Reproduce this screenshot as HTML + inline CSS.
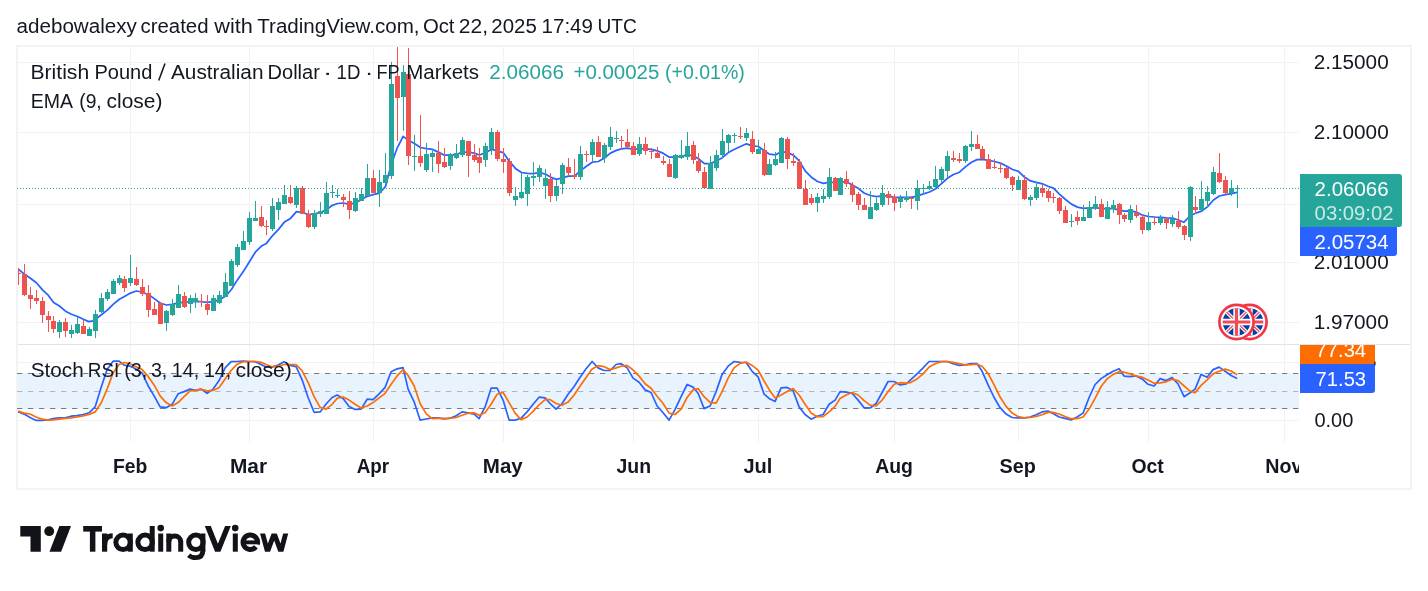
<!DOCTYPE html>
<html><head><meta charset="utf-8"><title>chart</title>
<style>html,body{margin:0;padding:0;background:#fff;}body{width:1428px;height:591px;overflow:hidden;font-family:"Liberation Sans",sans-serif;}svg{display:block;position:absolute;left:0;top:0;will-change:transform;}text{font-family:"Liberation Sans",sans-serif;}</style></head><body>
<svg width="1428" height="591" viewBox="0 0 1428 591">
<rect x="0" y="0" width="1428" height="591" fill="#ffffff"/>
<rect x="17" y="46" width="1394" height="443" fill="#ffffff" stroke="#f3f3f4" stroke-width="2"/>
<defs><clipPath id="plot"><rect x="18" y="47" width="1281" height="298"/></clipPath><clipPath id="plot2"><rect x="18" y="345" width="1281" height="97"/></clipPath><clipPath id="taxis"><rect x="18" y="442" width="1281" height="46"/></clipPath><clipPath id="olab"><rect x="1299" y="345" width="112" height="60"/></clipPath></defs>
<path d="M130.5 47V441.5 M249.5 47V441.5 M373.5 47V441.5 M503.5 47V441.5 M633.5 47V441.5 M758.5 47V441.5 M894.5 47V441.5 M1018.5 47V441.5 M1148.5 47V441.5 M1284.5 47V441.5 M18 62.5H1299 M18 132.5H1299 M18 204.5H1299 M18 262.5H1299 M18 322.5H1299 M18 362.5H1299 M18 420.5H1299" stroke="#f2f2f3" stroke-width="1" fill="none" shape-rendering="crispEdges"/>
<rect x="18" y="373" width="1281" height="36" fill="#e9f3fd"/>
<path d="M17 373.5H1299" stroke="#787b86" stroke-width="1" stroke-dasharray="5.3 5.7" fill="none"/>
<path d="M17 408.5H1299" stroke="#787b86" stroke-width="1" stroke-dasharray="5.3 5.7" fill="none"/>
<path d="M17 391.5H1299" stroke="#b2b5be" stroke-width="1" stroke-dasharray="5.3 5.7" fill="none"/>
<path d="M18 344.5H1410" stroke="#e0e3eb" stroke-width="1" fill="none"/>
<path d="M17.4 268.3 L24.4 274.1 L30.4 278.2 L36.4 282.7 L42.5 289.9 L48.4 295.4 L53.6 302.5 L59.4 306.0 L65.5 311.2 L71.4 314.3 L77.5 316.5 L83.4 319.3 L88.6 321.6 L93.2 320.8 L95.5 319.3 L101.4 314.7 L107.3 310.1 L113.4 304.1 L119.4 299.2 L124.4 296.4 L130.5 293.1 L136.3 291.0 L139.2 291.5 L142.4 292.5 L148.4 294.5 L154.3 298.6 L160.4 303.2 L166.3 305.0 L172.4 304.3 L178.4 302.9 L184.5 302.1 L190.4 301.7 L195.4 301.4 L201.4 301.7 L207.3 302.4 L213.4 301.7 L219.3 299.8 L225.4 296.3 L231.4 289.5 L237.4 279.9 L244.0 270.5 L255.3 252.2 L261.4 246.1 L266.4 243.4 L272.4 235.8 L278.5 229.4 L284.4 222.1 L290.5 218.4 L296.4 211.6 L302.4 212.6 L308.5 214.5 L314.4 213.9 L320.3 212.6 L326.4 209.9 L332.4 205.3 L337.5 203.5 L343.5 203.0 L349.5 204.5 L355.4 202.7 L361.4 199.6 L367.1 196.3 L373.1 194.7 L379.5 193.1 L385.4 186.7 L391.5 163.8 L397.3 147.8 L403.1 136.4 L408.4 140.2 L414.4 143.6 L420.4 147.5 L426.4 148.6 L432.3 149.4 L438.4 152.1 L444.4 155.2 L450.3 155.2 L456.3 154.3 L462.4 152.4 L468.5 152.0 L474.3 153.2 L479.4 155.0 L485.5 152.7 L491.5 149.2 L497.4 151.2 L503.3 152.7 L509.4 161.4 L515.4 168.4 L521.5 172.5 L527.4 173.3 L533.3 173.6 L539.4 172.5 L545.4 174.1 L550.4 177.1 L556.3 179.4 L562.4 177.9 L568.4 176.2 L574.4 176.2 L580.4 170.9 L586.4 166.3 L592.3 162.2 L598.4 161.5 L604.4 158.0 L610.4 153.1 L616.4 150.4 L621.4 148.8 L627.5 148.1 L633.4 149.3 L639.4 148.8 L645.5 148.8 L651.4 149.3 L657.3 150.8 L663.4 153.4 L669.4 157.2 L675.5 157.2 L681.5 156.1 L687.4 154.9 L693.3 155.7 L698.4 158.7 L704.5 163.6 L710.4 163.6 L716.3 161.0 L722.4 157.7 L728.4 152.6 L734.5 149.3 L740.4 146.5 L746.5 143.8 L752.4 145.8 L758.4 146.5 L764.5 150.8 L769.5 154.2 L775.4 154.9 L781.5 151.4 L787.4 152.8 L793.4 155.1 L799.4 161.2 L805.3 171.1 L811.4 177.2 L817.5 181.5 L823.4 183.3 L829.4 182.1 L835.5 182.5 L840.5 181.8 L846.4 181.8 L852.5 185.1 L858.5 188.6 L864.4 193.2 L870.5 195.5 L876.4 196.7 L882.5 195.8 L888.5 195.8 L894.0 197.3 L900.4 197.3 L906.3 197.3 L911.5 197.3 L917.5 195.8 L923.5 193.8 L929.5 192.0 L935.4 189.0 L941.5 183.6 L947.4 178.3 L953.4 174.5 L959.5 172.2 L965.4 166.9 L971.5 162.3 L977.0 159.6 L982.5 159.3 L988.4 160.3 L994.5 161.5 L1000.4 163.1 L1006.4 166.0 L1012.5 169.5 L1018.5 171.3 L1024.4 177.1 L1030.5 180.9 L1036.4 182.4 L1042.4 183.8 L1048.5 186.5 L1053.5 188.1 L1059.4 194.2 L1065.5 199.5 L1071.5 204.1 L1077.4 207.1 L1083.5 208.3 L1089.4 207.9 L1095.5 207.6 L1101.5 208.6 L1107.4 208.6 L1113.5 208.6 L1119.5 210.1 L1124.4 211.2 L1130.4 210.9 L1136.5 212.1 L1142.5 215.2 L1148.4 216.5 L1154.4 217.0 L1160.4 217.3 L1166.4 217.8 L1172.5 218.1 L1178.4 220.0 L1183.8 222.3 L1190.4 215.5 L1195.7 213.2 L1201.7 211.1 L1207.6 206.6 L1213.5 200.0 L1219.3 196.0 L1225.4 194.7 L1231.2 193.7 L1237.1 192.4" stroke="#2962ff" stroke-width="1.75" fill="none" stroke-linejoin="round" stroke-linecap="round" clip-path="url(#plot)"/>
<g clip-path="url(#plot)" shape-rendering="crispEdges">
<path d="M18 268h1V285h-1Z M16 273h5V274h-5Z M24 264h1V296h-1Z M22 274h5V295h-5Z M30 287h1V309h-1Z M28 295h5V299h-5Z M36 290h1V304h-1Z M34 298h5V301h-5Z M42 297h1V323h-1Z M40 301h5V315h-5Z M48 311h1V332h-1Z M46 316h5V320h-5Z M53 316h1V333h-1Z M51 321h5V329h-5Z M65 318h1V337h-1Z M63 322h5V331h-5Z M83 320h1V334h-1Z M81 326h5V334h-5Z M124 276h1V292h-1Z M122 279h5V288h-5Z M136 267h1V286h-1Z M134 279h5V285h-5Z M142 279h1V296h-1Z M140 287h5V294h-5Z M148 285h1V317h-1Z M146 293h5V310h-5Z M154 302h1V315h-1Z M152 309h5V315h-5Z M160 302h1V324h-1Z M158 303h5V324h-5Z M184 292h1V308h-1Z M182 296h5V307h-5Z M201 294h1V307h-1Z M199 301h5V302h-5Z M207 295h1V315h-1Z M205 304h5V310h-5Z M261 206h1V227h-1Z M259 217h5V226h-5Z M266 220h1V235h-1Z M264 226h5V227h-5Z M290 185h1V204h-1Z M288 197h5V203h-5Z M302 186h1V214h-1Z M300 188h5V214h-5Z M308 210h1V228h-1Z M306 214h5V227h-5Z M343 194h1V207h-1Z M341 197h5V200h-5Z M349 191h1V219h-1Z M347 201h5V210h-5Z M373 170h1V193h-1Z M371 178h5V193h-5Z M397 46h1V141h-1Z M395 76h5V98h-5Z M408 48h1V165h-1Z M406 74h5V156h-5Z M420 115h1V167h-1Z M418 156h5V163h-5Z M438 141h1V173h-1Z M436 153h5V164h-5Z M444 148h1V168h-1Z M442 162h5V167h-5Z M468 141h1V177h-1Z M466 141h5V156h-5Z M474 144h1V162h-1Z M472 155h5V160h-5Z M479 148h1V173h-1Z M477 157h5V163h-5Z M497 130h1V161h-1Z M495 132h5V159h-5Z M503 148h1V173h-1Z M501 159h5V162h-5Z M509 158h1V196h-1Z M507 161h5V193h-5Z M550 173h1V202h-1Z M548 179h5V196h-5Z M568 158h1V176h-1Z M566 167h5V173h-5Z M574 159h1V179h-1Z M572 175h5V177h-5Z M586 151h1V162h-1Z M584 154h5V155h-5Z M598 136h1V157h-1Z M596 142h5V157h-5Z M621 136h1V149h-1Z M619 140h5V141h-5Z M627 129h1V147h-1Z M625 142h5V147h-5Z M633 142h1V155h-1Z M631 146h5V155h-5Z M645 137h1V155h-1Z M643 144h5V151h-5Z M651 148h1V159h-1Z M649 151h5V152h-5Z M657 147h1V158h-1Z M655 153h5V158h-5Z M663 156h1V165h-1Z M661 161h5V163h-5Z M669 159h1V177h-1Z M667 164h5V177h-5Z M693 141h1V164h-1Z M691 145h5V160h-5Z M698 153h1V173h-1Z M696 161h5V171h-5Z M704 167h1V188h-1Z M702 172h5V188h-5Z M740 127h1V139h-1Z M738 136h5V137h-5Z M752 131h1V154h-1Z M750 139h5V152h-5Z M764 143h1V176h-1Z M762 150h5V175h-5Z M787 137h1V169h-1Z M785 139h5V159h-5Z M793 153h1V166h-1Z M791 161h5V163h-5Z M799 159h1V189h-1Z M797 162h5V189h-5Z M805 180h1V205h-1Z M803 189h5V205h-5Z M811 194h1V205h-1Z M809 198h5V203h-5Z M835 177h1V191h-1Z M833 178h5V191h-5Z M846 171h1V187h-1Z M844 179h5V184h-5Z M852 182h1V202h-1Z M850 185h5V195h-5Z M858 192h1V210h-1Z M856 194h5V205h-5Z M864 198h1V210h-1Z M862 205h5V210h-5Z M888 191h1V205h-1Z M886 194h5V198h-5Z M894 194h1V211h-1Z M892 197h5V203h-5Z M911 196h1V209h-1Z M909 198h5V199h-5Z M953 151h1V162h-1Z M951 158h5V160h-5Z M959 153h1V163h-1Z M957 159h5V161h-5Z M977 135h1V149h-1Z M975 144h5V149h-5Z M982 146h1V159h-1Z M980 149h5V159h-5Z M988 154h1V169h-1Z M986 159h5V169h-5Z M994 159h1V169h-1Z M992 167h5V168h-5Z M1000 162h1V173h-1Z M998 168h5V169h-5Z M1006 167h1V179h-1Z M1004 168h5V178h-5Z M1012 176h1V191h-1Z M1010 177h5V185h-5Z M1024 175h1V200h-1Z M1022 180h5V199h-5Z M1042 184h1V197h-1Z M1040 188h5V193h-5Z M1048 189h1V202h-1Z M1046 191h5V198h-5Z M1053 193h1V203h-1Z M1051 197h5V198h-5Z M1059 197h1V214h-1Z M1057 198h5V211h-5Z M1065 206h1V223h-1Z M1063 210h5V223h-5Z M1077 211h1V225h-1Z M1075 217h5V221h-5Z M1101 199h1V217h-1Z M1099 204h5V217h-5Z M1119 203h1V224h-1Z M1117 204h5V215h-5Z M1124 213h1V222h-1Z M1122 215h5V219h-5Z M1136 205h1V218h-1Z M1134 213h5V216h-5Z M1142 214h1V234h-1Z M1140 217h5V230h-5Z M1154 216h1V225h-1Z M1152 222h5V223h-5Z M1166 217h1V229h-1Z M1164 219h5V223h-5Z M1178 211h1V229h-1Z M1176 221h5V227h-5Z M1184 225h1V240h-1Z M1182 226h5V235h-5Z M1195 196h1V214h-1Z M1193 207h5V210h-5Z M1219 153h1V183h-1Z M1217 173h5V182h-5Z M1225 176h1V194h-1Z M1223 180h5V193h-5Z" fill="#ef5350"/>
<path d="M59 320h1V338h-1Z M57 322h5V332h-5Z M71 325h1V338h-1Z M69 330h5V334h-5Z M77 317h1V334h-1Z M75 324h5V333h-5Z M89 327h1V336h-1Z M87 329h5V336h-5Z M95 310h1V338h-1Z M93 314h5V331h-5Z M101 293h1V313h-1Z M99 298h5V312h-5Z M107 289h1V301h-1Z M105 292h5V299h-5Z M113 279h1V294h-1Z M111 281h5V294h-5Z M119 275h1V285h-1Z M117 278h5V283h-5Z M130 255h1V286h-1Z M128 278h5V283h-5Z M166 310h1V331h-1Z M164 311h5V323h-5Z M172 299h1V316h-1Z M170 304h5V315h-5Z M178 285h1V308h-1Z M176 294h5V308h-5Z M190 295h1V313h-1Z M188 298h5V304h-5Z M195 293h1V308h-1Z M193 298h5V302h-5Z M213 295h1V311h-1Z M211 298h5V311h-5Z M219 291h1V304h-1Z M217 295h5V303h-5Z M225 273h1V297h-1Z M223 282h5V297h-5Z M231 259h1V286h-1Z M229 261h5V286h-5Z M237 244h1V267h-1Z M235 247h5V265h-5Z M243 231h1V250h-1Z M241 241h5V250h-5Z M249 212h1V245h-1Z M247 218h5V242h-5Z M255 201h1V221h-1Z M253 218h5V221h-5Z M272 198h1V231h-1Z M270 206h5V229h-5Z M278 198h1V220h-1Z M276 202h5V210h-5Z M284 185h1V204h-1Z M282 195h5V204h-5Z M296 186h1V208h-1Z M294 188h5V205h-5Z M314 210h1V229h-1Z M312 213h5V227h-5Z M320 202h1V217h-1Z M318 211h5V214h-5Z M326 182h1V214h-1Z M324 193h5V214h-5Z M332 185h1V198h-1Z M330 192h5V193h-5Z M337 189h1V198h-1Z M335 195h5V196h-5Z M355 192h1V212h-1Z M353 198h5V211h-5Z M361 188h1V201h-1Z M359 194h5V201h-5Z M367 164h1V196h-1Z M365 178h5V196h-5Z M379 170h1V207h-1Z M377 182h5V193h-5Z M385 153h1V183h-1Z M383 175h5V183h-5Z M391 62h1V179h-1Z M389 84h5V176h-5Z M403 65h1V131h-1Z M401 72h5V97h-5Z M414 135h1V171h-1Z M412 156h5V157h-5Z M426 143h1V172h-1Z M424 154h5V170h-5Z M432 151h1V172h-1Z M430 153h5V157h-5Z M450 153h1V170h-1Z M448 154h5V166h-5Z M456 144h1V159h-1Z M454 153h5V158h-5Z M462 137h1V157h-1Z M460 140h5V155h-5Z M485 143h1V167h-1Z M483 146h5V160h-5Z M491 128h1V155h-1Z M489 132h5V149h-5Z M515 187h1V206h-1Z M513 196h5V200h-5Z M521 173h1V199h-1Z M519 192h5V198h-5Z M527 175h1V206h-1Z M525 177h5V194h-5Z M533 162h1V186h-1Z M531 176h5V178h-5Z M539 165h1V182h-1Z M537 168h5V177h-5Z M545 169h1V199h-1Z M543 178h5V186h-5Z M556 180h1V201h-1Z M554 186h5V196h-5Z M562 163h1V194h-1Z M560 165h5V184h-5Z M580 146h1V180h-1Z M578 154h5V177h-5Z M592 139h1V161h-1Z M590 142h5V155h-5Z M604 143h1V163h-1Z M602 145h5V158h-5Z M610 127h1V150h-1Z M608 137h5V147h-5Z M616 131h1V143h-1Z M614 138h5V139h-5Z M639 137h1V156h-1Z M637 144h5V154h-5Z M675 154h1V179h-1Z M673 155h5V178h-5Z M681 140h1V159h-1Z M679 155h5V158h-5Z M687 132h1V160h-1Z M685 146h5V157h-5Z M710 156h1V189h-1Z M708 163h5V189h-5Z M716 150h1V171h-1Z M714 155h5V168h-5Z M722 129h1V158h-1Z M720 141h5V155h-5Z M728 134h1V152h-1Z M726 135h5V143h-5Z M734 133h1V143h-1Z M732 135h5V136h-5Z M746 128h1V141h-1Z M744 133h5V138h-5Z M758 140h1V154h-1Z M756 149h5V154h-5Z M769 159h1V175h-1Z M767 164h5V175h-5Z M775 152h1V166h-1Z M773 159h5V165h-5Z M781 137h1V163h-1Z M779 138h5V163h-5Z M817 193h1V212h-1Z M815 197h5V203h-5Z M823 189h1V203h-1Z M821 196h5V199h-5Z M829 168h1V199h-1Z M827 177h5V197h-5Z M840 177h1V195h-1Z M838 178h5V195h-5Z M870 191h1V219h-1Z M868 207h5V219h-5Z M876 198h1V211h-1Z M874 203h5V210h-5Z M882 185h1V207h-1Z M880 193h5V205h-5Z M900 195h1V208h-1Z M898 198h5V202h-5Z M906 191h1V202h-1Z M904 197h5V200h-5Z M917 180h1V210h-1Z M915 188h5V201h-5Z M923 184h1V194h-1Z M921 188h5V189h-5Z M929 181h1V190h-1Z M927 186h5V189h-5Z M935 166h1V190h-1Z M933 179h5V187h-5Z M941 167h1V183h-1Z M939 169h5V180h-5Z M947 151h1V177h-1Z M945 156h5V171h-5Z M965 145h1V163h-1Z M963 146h5V161h-5Z M971 131h1V151h-1Z M969 144h5V147h-5Z M1018 176h1V190h-1Z M1016 180h5V190h-5Z M1030 195h1V206h-1Z M1028 197h5V200h-5Z M1036 182h1V200h-1Z M1034 187h5V198h-5Z M1071 214h1V227h-1Z M1069 221h5V222h-5Z M1083 205h1V221h-1Z M1081 217h5V221h-5Z M1089 201h1V218h-1Z M1087 207h5V218h-5Z M1095 196h1V210h-1Z M1093 204h5V208h-5Z M1107 201h1V219h-1Z M1105 207h5V219h-5Z M1113 200h1V213h-1Z M1111 205h5V209h-5Z M1130 205h1V223h-1Z M1128 209h5V220h-5Z M1148 212h1V231h-1Z M1146 222h5V230h-5Z M1160 215h1V225h-1Z M1158 218h5V223h-5Z M1172 215h1V227h-1Z M1170 219h5V224h-5Z M1190 186h1V241h-1Z M1188 187h5V237h-5Z M1201 181h1V211h-1Z M1199 199h5V210h-5Z M1207 186h1V208h-1Z M1205 192h5V201h-5Z M1213 167h1V195h-1Z M1211 172h5V194h-5Z M1231 180h1V196h-1Z M1229 188h5V193h-5Z M1237 185h1V208h-1Z M1235 188h5V189h-5Z" fill="#26a69a"/>
</g>
<path d="M17 188.5H1300" stroke="#26a69a" stroke-width="1" stroke-dasharray="1 2" fill="none"/>
<path d="M18.1 411.9 L24.1 414.1 L30.1 417.5 L36.1 420.4 L42.1 420.4 L48.1 419.9 L53.1 418.7 L59.1 417.9 L65.1 417.9 L71.1 416.2 L77.1 415.7 L83.1 414.5 L89.1 412.8 L95.1 406.9 L101.1 387.4 L107.1 369.6 L113.1 361.2 L119.1 361.2 L124.1 365.1 L130.1 366.2 L136.1 369.1 L142.1 373.0 L148.1 385.7 L154.1 395.9 L160.1 406.9 L166.1 407.7 L172.1 404.3 L178.1 393.8 L184.1 391.6 L190.1 389.1 L195.1 390.4 L201.1 389.1 L207.1 393.3 L213.1 389.1 L219.1 380.6 L225.1 367.9 L231.1 361.7 L237.1 361.5 L243.1 361.2 L249.1 361.5 L255.1 361.7 L261.1 364.5 L266.1 367.1 L272.1 367.1 L278.1 365.1 L284.1 361.7 L290.1 365.4 L296.1 366.7 L302.1 379.8 L308.1 397.5 L314.1 412.3 L320.1 411.9 L326.1 404.0 L332.1 397.5 L337.1 395.0 L343.1 398.4 L349.1 406.4 L355.1 409.4 L361.1 409.1 L367.1 399.2 L373.1 399.7 L379.1 393.8 L385.1 387.4 L391.1 371.7 L397.1 368.8 L403.1 367.6 L408.1 389.1 L414.1 401.8 L420.1 420.1 L426.1 419.0 L432.1 417.9 L438.1 417.9 L444.1 419.0 L450.1 418.2 L456.1 415.8 L462.1 411.9 L468.1 412.8 L474.1 414.1 L479.1 418.7 L485.1 406.9 L491.1 388.2 L497.1 388.2 L503.1 400.1 L509.1 420.1 L515.1 420.1 L521.1 418.2 L527.1 411.9 L533.1 404.3 L539.1 397.2 L545.1 397.9 L550.1 403.5 L556.1 409.1 L562.1 403.5 L568.1 394.2 L574.1 386.5 L580.1 377.2 L586.1 368.8 L592.1 361.5 L598.1 367.9 L604.1 370.5 L610.1 370.5 L616.1 364.5 L621.1 363.7 L627.1 367.9 L633.1 378.1 L639.1 382.3 L645.1 389.9 L651.1 392.5 L657.1 406.0 L663.1 412.8 L669.1 420.1 L675.1 409.4 L681.1 396.7 L687.1 384.5 L693.1 387.1 L698.1 393.3 L704.1 408.6 L710.1 406.0 L716.1 391.6 L722.1 374.4 L728.1 366.2 L734.1 361.5 L740.1 362.3 L746.1 362.5 L752.1 371.3 L758.1 376.9 L764.1 394.2 L769.1 398.4 L775.1 401.4 L781.1 387.9 L787.1 387.4 L793.1 390.8 L799.1 406.9 L805.1 414.5 L811.1 419.2 L817.1 416.2 L823.1 414.5 L829.1 404.3 L835.1 400.1 L840.1 391.6 L846.1 392.1 L852.1 393.3 L858.1 400.1 L864.1 407.7 L870.1 408.0 L876.1 403.5 L882.1 392.5 L888.1 381.5 L894.1 381.5 L900.1 384.9 L906.1 384.0 L911.1 379.3 L917.1 373.9 L923.1 367.9 L929.1 361.5 L935.1 361.5 L941.1 361.5 L947.1 361.5 L953.1 363.7 L959.1 365.4 L965.1 364.9 L971.1 363.7 L977.1 363.7 L982.1 371.3 L988.1 384.9 L994.1 397.5 L1000.1 407.7 L1006.1 414.1 L1012.1 417.5 L1018.1 417.9 L1024.1 417.9 L1030.1 417.0 L1036.1 414.8 L1042.1 411.9 L1048.1 411.1 L1053.1 413.6 L1059.1 417.0 L1065.1 418.4 L1071.1 419.9 L1077.1 417.0 L1083.1 413.1 L1089.1 397.5 L1095.1 384.5 L1101.1 378.6 L1107.1 374.7 L1113.1 371.3 L1119.1 368.8 L1124.1 376.1 L1130.1 376.7 L1136.1 375.9 L1142.1 378.9 L1148.1 384.3 L1154.1 386.0 L1160.1 378.6 L1166.1 380.6 L1172.1 377.6 L1178.1 384.0 L1184.1 396.7 L1190.1 392.8 L1195.1 389.1 L1201.1 374.4 L1207.1 377.2 L1213.1 369.6 L1219.1 367.1 L1225.1 371.3 L1231.1 375.5 L1237.1 378.4" stroke="#2962ff" stroke-width="1.7" fill="none" stroke-linejoin="round" clip-path="url(#plot2)"/>
<path d="M18.1 411.1 L24.1 413.1 L30.1 414.0 L36.1 417.0 L42.1 419.2 L48.1 420.1 L53.1 419.9 L59.1 419.2 L65.1 418.4 L71.1 417.9 L77.1 417.0 L83.1 415.8 L89.1 414.5 L95.1 411.9 L101.1 403.0 L107.1 389.1 L113.1 373.0 L119.1 364.5 L124.1 362.5 L130.1 363.7 L136.1 366.7 L142.1 369.6 L148.1 376.4 L154.1 384.9 L160.1 395.9 L166.1 402.6 L172.1 406.0 L178.1 402.6 L184.1 396.7 L190.1 390.8 L195.1 390.4 L201.1 389.4 L207.1 390.8 L213.1 390.4 L219.1 387.4 L225.1 378.9 L231.1 370.5 L237.1 364.2 L243.1 361.7 L249.1 361.5 L255.1 361.5 L261.1 362.3 L266.1 364.5 L272.1 366.7 L278.1 366.2 L284.1 364.5 L290.1 364.5 L296.1 364.5 L302.1 370.8 L308.1 382.3 L314.1 396.7 L320.1 407.4 L326.1 409.1 L332.1 404.3 L337.1 398.4 L343.1 397.0 L349.1 400.1 L355.1 404.3 L361.1 408.0 L367.1 406.0 L373.1 402.6 L379.1 397.9 L385.1 393.3 L391.1 384.3 L397.1 375.9 L403.1 369.6 L408.1 375.5 L414.1 385.7 L420.1 403.5 L426.1 413.6 L432.1 418.7 L438.1 418.4 L444.1 418.4 L450.1 418.4 L456.1 417.5 L462.1 415.3 L468.1 413.3 L474.1 412.8 L479.1 415.3 L485.1 412.8 L491.1 404.3 L497.1 394.2 L503.1 392.5 L509.1 402.6 L515.1 413.1 L521.1 419.6 L527.1 417.0 L533.1 411.4 L539.1 404.8 L545.1 399.6 L550.1 399.6 L556.1 403.5 L562.1 405.2 L568.1 402.1 L574.1 395.0 L580.1 386.0 L586.1 377.6 L592.1 369.1 L598.1 365.7 L604.1 366.7 L610.1 369.6 L616.1 367.9 L621.1 366.2 L627.1 365.4 L633.1 370.0 L639.1 376.1 L645.1 383.7 L651.1 388.2 L657.1 396.2 L663.1 403.5 L669.1 413.1 L675.1 414.5 L681.1 409.1 L687.1 397.5 L693.1 389.9 L698.1 388.6 L704.1 396.7 L710.1 402.3 L716.1 403.1 L722.1 391.6 L728.1 378.1 L734.1 367.9 L740.1 363.4 L746.1 362.0 L752.1 365.4 L758.1 370.1 L764.1 381.0 L769.1 389.4 L775.1 398.1 L781.1 395.0 L787.1 391.6 L793.1 388.6 L799.1 395.0 L805.1 404.3 L811.1 413.1 L817.1 416.7 L823.1 416.7 L829.1 411.9 L835.1 406.4 L840.1 398.4 L846.1 395.0 L852.1 392.5 L858.1 395.0 L864.1 400.6 L870.1 405.2 L876.1 406.0 L882.1 400.1 L888.1 391.6 L894.1 384.3 L900.1 382.7 L906.1 383.2 L911.1 382.3 L917.1 378.9 L923.1 373.9 L929.1 367.1 L935.1 363.7 L941.1 361.7 L947.1 361.5 L953.1 362.3 L959.1 363.7 L965.1 364.9 L971.1 364.7 L977.1 364.2 L982.1 366.2 L988.1 373.5 L994.1 384.9 L1000.1 397.0 L1006.1 406.4 L1012.1 413.1 L1018.1 416.5 L1024.1 417.9 L1030.1 417.5 L1036.1 416.5 L1042.1 414.8 L1048.1 412.4 L1053.1 412.4 L1059.1 414.0 L1065.1 416.5 L1071.1 418.7 L1077.1 418.7 L1083.1 417.0 L1089.1 409.1 L1095.1 398.4 L1101.1 386.5 L1107.1 378.9 L1113.1 374.4 L1119.1 371.7 L1124.1 372.2 L1130.1 373.9 L1136.1 376.1 L1142.1 377.2 L1148.1 380.1 L1154.1 383.2 L1160.1 382.8 L1166.1 381.8 L1172.1 379.3 L1178.1 380.6 L1184.1 386.0 L1190.1 391.1 L1195.1 392.8 L1201.1 385.4 L1207.1 379.8 L1213.1 373.9 L1219.1 371.3 L1225.1 369.1 L1231.1 371.0 L1237.1 374.7" stroke="#ff6d00" stroke-width="1.7" fill="none" stroke-linejoin="round" clip-path="url(#plot2)"/>
<clipPath id="f2"><circle cx="1249.5" cy="322" r="13.8"/></clipPath><circle cx="1249.5" cy="322" r="17.1" fill="#ffffff" stroke="#f23645" stroke-width="2.7"/><g clip-path="url(#f2)"><rect x="1235.5" y="308" width="28" height="28" fill="#0b3ba6"/><path d="M1235.5 308L1263.5 336M1263.5 308L1235.5 336" stroke="#fff" stroke-width="3.6"/><path d="M1235.5 308L1263.5 336M1263.5 308L1235.5 336" stroke="#ef4d55" stroke-width="1.3"/><path d="M1249.5 308V336M1235.5 322H1263.5" stroke="#fff" stroke-width="6.4"/><path d="M1249.5 308V336M1235.5 322H1263.5" stroke="#ef4d55" stroke-width="3.2"/></g>
<clipPath id="f1"><circle cx="1236.5" cy="322" r="13.8"/></clipPath><circle cx="1236.5" cy="322" r="17.1" fill="#ffffff" stroke="#f23645" stroke-width="2.7"/><g clip-path="url(#f1)"><rect x="1222.5" y="308" width="28" height="28" fill="#0b3ba6"/><path d="M1222.5 308L1250.5 336M1250.5 308L1222.5 336" stroke="#fff" stroke-width="3.6"/><path d="M1222.5 308L1250.5 336M1250.5 308L1222.5 336" stroke="#ef4d55" stroke-width="1.3"/><path d="M1236.5 308V336M1222.5 322H1250.5" stroke="#fff" stroke-width="6.4"/><path d="M1236.5 308V336M1222.5 322H1250.5" stroke="#ef4d55" stroke-width="3.2"/></g>
<text x="16.56" y="32.7" font-size="20" fill="#131722" font-weight="normal" text-anchor="start" textLength="120.32" lengthAdjust="spacingAndGlyphs" >adebowalexy</text>
<text x="140.52" y="32.7" font-size="20" fill="#131722" font-weight="normal" text-anchor="start" textLength="68.0" lengthAdjust="spacingAndGlyphs" >created</text>
<text x="214.36" y="32.7" font-size="20" fill="#131722" font-weight="normal" text-anchor="start" textLength="38.55" lengthAdjust="spacingAndGlyphs" >with</text>
<text x="257.29" y="32.7" font-size="20" fill="#131722" font-weight="normal" text-anchor="start" textLength="162.27" lengthAdjust="spacingAndGlyphs" >TradingView.com,</text>
<text x="422.9" y="32.7" font-size="20" fill="#131722" font-weight="normal" text-anchor="start" textLength="31.63" lengthAdjust="spacingAndGlyphs" >Oct</text>
<text x="458.87" y="32.7" font-size="20" fill="#131722" font-weight="normal" text-anchor="start" textLength="29.23" lengthAdjust="spacingAndGlyphs" >22,</text>
<text x="491.37" y="32.7" font-size="20" fill="#131722" font-weight="normal" text-anchor="start" textLength="45.42" lengthAdjust="spacingAndGlyphs" >2025</text>
<text x="541.57" y="32.7" font-size="20" fill="#131722" font-weight="normal" text-anchor="start" textLength="51.41" lengthAdjust="spacingAndGlyphs" >17:49</text>
<text x="597.53" y="32.7" font-size="20" fill="#131722" font-weight="normal" text-anchor="start" textLength="39.36" lengthAdjust="spacingAndGlyphs" >UTC</text>
<text x="30.49" y="79" font-size="20" fill="#131722" font-weight="normal" text-anchor="start" textLength="58.69" lengthAdjust="spacingAndGlyphs" >British</text>
<text x="94.46" y="79" font-size="20" fill="#131722" font-weight="normal" text-anchor="start" textLength="57.95" lengthAdjust="spacingAndGlyphs" >Pound</text>
<path d="M158.7 80.4L165.0 63.5" stroke="#131722" stroke-width="1.55" fill="none"/>
<text x="170.94" y="79" font-size="20" fill="#131722" font-weight="normal" text-anchor="start" textLength="92.52" lengthAdjust="spacingAndGlyphs" >Australian</text>
<text x="267.55" y="79" font-size="20" fill="#131722" font-weight="normal" text-anchor="start" textLength="52.34" lengthAdjust="spacingAndGlyphs" >Dollar</text>
<text x="323.05" y="79" font-size="20" fill="#131722" font-weight="normal" text-anchor="start" textLength="9.27" lengthAdjust="spacingAndGlyphs" >·</text>
<text x="336.56" y="79" font-size="20" fill="#131722" font-weight="normal" text-anchor="start" textLength="23.84" lengthAdjust="spacingAndGlyphs" >1D</text>
<text x="365.09" y="79" font-size="20" fill="#131722" font-weight="normal" text-anchor="start" textLength="8.19" lengthAdjust="spacingAndGlyphs" >·</text>
<text x="376.49" y="79" font-size="20" fill="#131722" font-weight="normal" text-anchor="start" textLength="23.19" lengthAdjust="spacingAndGlyphs" >FP</text>
<text x="406.15" y="79" font-size="20" fill="#131722" font-weight="normal" text-anchor="start" textLength="72.94" lengthAdjust="spacingAndGlyphs" >Markets</text>
<text x="489.34" y="79" font-size="20" fill="#26a69a" font-weight="normal" text-anchor="start" textLength="74.53" lengthAdjust="spacingAndGlyphs" >2.06066</text>
<text x="573.43" y="79" font-size="20" fill="#26a69a" font-weight="normal" text-anchor="start" textLength="85.98" lengthAdjust="spacingAndGlyphs" >+0.00025</text>
<text x="665.07" y="79" font-size="20" fill="#26a69a" font-weight="normal" text-anchor="start" textLength="79.69" lengthAdjust="spacingAndGlyphs" >(+0.01%)</text>
<text x="30.67" y="108" font-size="20" fill="#131722" font-weight="normal" text-anchor="start" textLength="42.29" lengthAdjust="spacingAndGlyphs" >EMA</text>
<text x="79.23" y="108" font-size="20" fill="#131722" font-weight="normal" text-anchor="start" textLength="22.49" lengthAdjust="spacingAndGlyphs" >(9,</text>
<text x="106.52" y="108" font-size="20" fill="#131722" font-weight="normal" text-anchor="start" textLength="55.87" lengthAdjust="spacingAndGlyphs" >close)</text>
<text x="30.71" y="377.3" font-size="20" fill="#131722" font-weight="normal" text-anchor="start" textLength="52.99" lengthAdjust="spacingAndGlyphs" >Stoch</text>
<text x="87.76" y="377.3" font-size="20" fill="#131722" font-weight="normal" text-anchor="start" textLength="31.54" lengthAdjust="spacingAndGlyphs" >RSI</text>
<text x="124.14" y="377.3" font-size="20" fill="#131722" font-weight="normal" text-anchor="start" textLength="23.15" lengthAdjust="spacingAndGlyphs" >(3,</text>
<text x="150.91" y="377.3" font-size="20" fill="#131722" font-weight="normal" text-anchor="start" textLength="16.39" lengthAdjust="spacingAndGlyphs" >3,</text>
<text x="171.84" y="377.3" font-size="20" fill="#131722" font-weight="normal" text-anchor="start" textLength="27.34" lengthAdjust="spacingAndGlyphs" >14,</text>
<text x="203.92" y="377.3" font-size="20" fill="#131722" font-weight="normal" text-anchor="start" textLength="27.38" lengthAdjust="spacingAndGlyphs" >14,</text>
<text x="235.48" y="377.3" font-size="20" fill="#131722" font-weight="normal" text-anchor="start" textLength="56.45" lengthAdjust="spacingAndGlyphs" >close)</text>
<text x="1313.7" y="69.0" font-size="20.5" fill="#131722" font-weight="normal" text-anchor="start" textLength="75" lengthAdjust="spacingAndGlyphs" >2.15000</text>
<text x="1313.7" y="139.0" font-size="20.5" fill="#131722" font-weight="normal" text-anchor="start" textLength="75" lengthAdjust="spacingAndGlyphs" >2.10000</text>
<text x="1313.7" y="269.0" font-size="20.5" fill="#131722" font-weight="normal" text-anchor="start" textLength="75" lengthAdjust="spacingAndGlyphs" >2.01000</text>
<text x="1313.7" y="329.0" font-size="20.5" fill="#131722" font-weight="normal" text-anchor="start" textLength="75" lengthAdjust="spacingAndGlyphs" >1.97000</text>
<text x="1314.4" y="427.2" font-size="20.5" fill="#131722" font-weight="normal" text-anchor="start" textLength="39" lengthAdjust="spacingAndGlyphs" >0.00</text>
<path d="M1300 174H1399a3 3 0 0 1 3 3V224a3 3 0 0 1 -3 3H1300Z" fill="#26a69a"/>
<text x="1314.6" y="195.8" font-size="20.5" fill="#ffffff" font-weight="normal" text-anchor="start" textLength="74" lengthAdjust="spacingAndGlyphs" >2.06066</text>
<text x="1314.6" y="220" font-size="20.5" fill="#ffffff" font-weight="normal" text-anchor="start" textLength="79" lengthAdjust="spacingAndGlyphs" fill-opacity="0.75">03:09:02</text>
<path d="M1300 227H1397V253a3 3 0 0 1 -3 3H1300Z" fill="#2962ff"/>
<text x="1314.6" y="248.9" font-size="20.5" fill="#ffffff" font-weight="normal" text-anchor="start" textLength="74" lengthAdjust="spacingAndGlyphs" >2.05734</text>
<g clip-path="url(#olab)">
<rect x="1300" y="336" width="75" height="28" fill="#ff6d00"/>
<text x="1315.6" y="356.6" font-size="20.5" fill="#ffffff" font-weight="normal" text-anchor="start" textLength="50.5" lengthAdjust="spacingAndGlyphs" >77.34</text>
</g>
<path d="M1300 364H1375V390a3 3 0 0 1 -3 3H1300Z" fill="#2962ff"/>
<rect x="1374.2" y="361.6" width="1.4" height="3.8" fill="#2a2e39"/>
<text x="1315.6" y="385.8" font-size="20.5" fill="#ffffff" font-weight="normal" text-anchor="start" textLength="50.5" lengthAdjust="spacingAndGlyphs" >71.53</text>
<g clip-path="url(#taxis)">
<text x="113.0" y="472.8" font-size="20" fill="#131722" font-weight="bold" text-anchor="start" textLength="34.37" lengthAdjust="spacingAndGlyphs" >Feb</text>
<text x="229.92" y="472.8" font-size="20" fill="#131722" font-weight="bold" text-anchor="start" textLength="37.1" lengthAdjust="spacingAndGlyphs" >Mar</text>
<text x="356.65" y="472.8" font-size="20" fill="#131722" font-weight="bold" text-anchor="start" textLength="32.53" lengthAdjust="spacingAndGlyphs" >Apr</text>
<text x="482.86" y="472.8" font-size="20" fill="#131722" font-weight="bold" text-anchor="start" textLength="39.85" lengthAdjust="spacingAndGlyphs" >May</text>
<text x="616.49" y="472.8" font-size="20" fill="#131722" font-weight="bold" text-anchor="start" textLength="34.56" lengthAdjust="spacingAndGlyphs" >Jun</text>
<text x="743.46" y="472.8" font-size="20" fill="#131722" font-weight="bold" text-anchor="start" textLength="28.9" lengthAdjust="spacingAndGlyphs" >Jul</text>
<text x="875.14" y="472.8" font-size="20" fill="#131722" font-weight="bold" text-anchor="start" textLength="37.7" lengthAdjust="spacingAndGlyphs" >Aug</text>
<text x="999.59" y="472.8" font-size="20" fill="#131722" font-weight="bold" text-anchor="start" textLength="36.31" lengthAdjust="spacingAndGlyphs" >Sep</text>
<text x="1131.47" y="472.8" font-size="20" fill="#131722" font-weight="bold" text-anchor="start" textLength="32.37" lengthAdjust="spacingAndGlyphs" >Oct</text>
<text x="1265.27" y="472.8" font-size="20" fill="#131722" font-weight="bold" text-anchor="start" textLength="37.16" lengthAdjust="spacingAndGlyphs" >Nov</text>
</g>
<g fill="#121318">
<path d="M20.3 526H40.8V551.8H30.5V536.5H20.3Z"/>
<circle cx="49.2" cy="531.2" r="4.9"/>
<path d="M59.4 526H71L61.1 551.8H49.5Z"/>
</g>
<defs><clipPath id="wclip"><rect x="255" y="533.5" width="40" height="18.2"/></clipPath></defs>
<g fill="#121318" stroke="none">
<rect x="83.2" y="526" width="18.8" height="5.6"/><rect x="89.9" y="526" width="5.5" height="25.7"/>
<rect x="102" y="533.5" width="5.2" height="18.2"/>
<rect x="127.8" y="533.5" width="5" height="18.2"/>
<rect x="149.7" y="526" width="5" height="25.7"/>
<rect x="158.2" y="533.5" width="5" height="18.2"/><circle cx="160.7" cy="528.1" r="3.3"/>
<rect x="166.3" y="533.5" width="5" height="18.2"/><rect x="178.2" y="541" width="5" height="10.7"/>
<rect x="200.5" y="533.5" width="4.9" height="18"/>
<path d="M204.8 526H210.8L217.9 543.8L225.1 526H230.8L220.4 551.7H215.05Z"/>
<rect x="232.8" y="533.5" width="5" height="18.2"/><circle cx="235.2" cy="528.1" r="3.3"/>
<rect x="245" y="540.4" width="13.5" height="3.9"/>
</g>
<g fill="none" stroke="#121318">
<path d="M104.6 545C104.6 538.6 107.3 535.7 112.7 535.7" stroke-width="5"/>
<circle cx="123.1" cy="542.3" r="7.25" stroke-width="5"/>
<circle cx="145.1" cy="542.3" r="7.25" stroke-width="5"/>
<path d="M168.8 542A5.95 5.95 0 0 1 180.7 542" stroke-width="5"/>
<circle cx="195.9" cy="542.3" r="7.25" stroke-width="5"/>
<path d="M202.95 550Q202.95 557.7 195.6 557.7Q191.5 557.7 188.6 555.2" stroke-width="4.8"/>
<path d="M257.3 544.3A7.25 7.25 0 1 0 255.9 546.9" stroke-width="5"/>
<path d="M261.25 528.5L267.5 551.7L274.2 533.5L280.9 551.7L287 528.5" stroke-width="4.9" stroke-linejoin="miter" stroke-miterlimit="10" clip-path="url(#wclip)"/>
</g>
</svg></body></html>
